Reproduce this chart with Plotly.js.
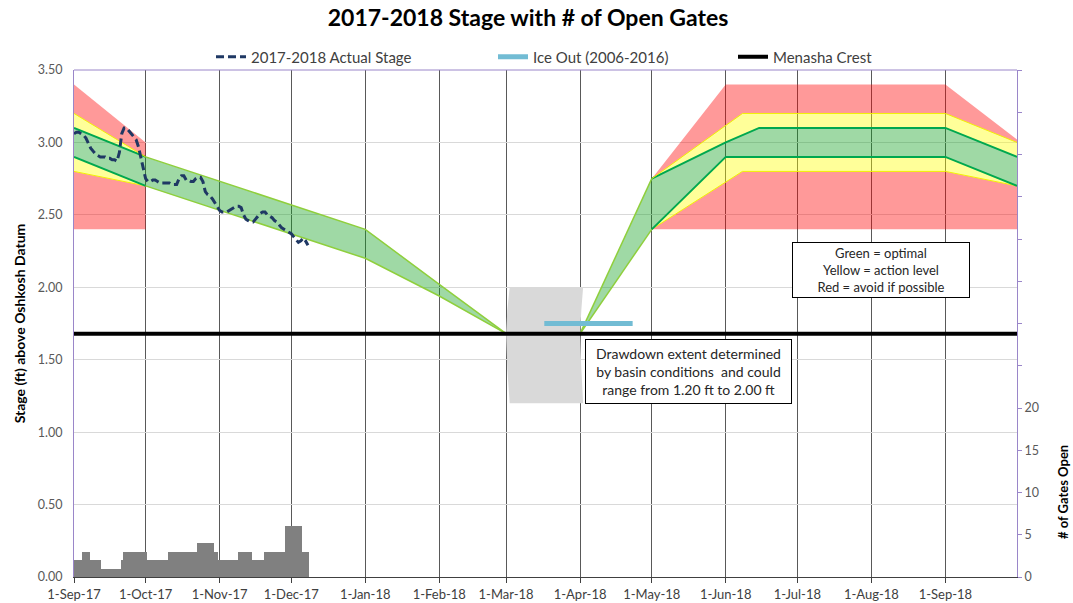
<!DOCTYPE html>
<html><head><meta charset="utf-8">
<script src="https://cdn.plot.ly/plotly-3.0.1.min.js"></script>
<style>html,body{margin:0;padding:0;background:#fff}#chart{width:1073px;height:603px}</style>
</head><body><div id="chart"></div>
<script>
// ---------------- DATA ----------------
const monthTicks = ['2017-09-01','2017-10-01','2017-11-01','2017-12-01','2018-01-01','2018-02-01',
  '2018-03-01','2018-04-01','2018-05-01','2018-06-01','2018-07-01','2018-08-01','2018-09-01'];
const xStart = '2017-09-01', xEnd = '2018-10-01';

// daily actual stage (ft), starting 1-Sep-2017
const stageStart = '2017-09-01';
const stageValues = [
 3.06,3.07,3.07,3.06,3.05,3.03,2.99,2.96,2.94,2.92,
 2.91,2.90,2.90,2.90,2.89,2.89,2.88,2.88,2.87,2.93,
 3.06,3.10,3.10,3.08,3.06,3.04,3.02,2.97,2.90,2.82,
 2.75,2.73,2.73,2.74,2.74,2.73,2.72,2.72,2.72,2.72,
 2.72,2.71,2.71,2.71,2.75,2.77,2.77,2.74,2.74,2.73,
 2.73,2.75,2.76,2.76,2.73,2.66,2.64,2.63,2.61,2.58,
 2.56,2.53,2.52,2.52,2.52,2.53,2.54,2.55,2.56,2.56,
 2.55,2.50,2.47,2.46,2.45,2.45,2.47,2.49,2.51,2.52,
 2.52,2.50,2.49,2.48,2.46,2.45,2.43,2.41,2.40,2.39,
 2.38,2.37,2.35,2.33,2.31,2.32,2.34,2.32,2.29];

// daily number of open gates, starting 1-Sep-2017
const gatesValues = [
 2,2,2,2,3,3,3,2,2,2,
 2,2,1,1,1,1,1,1,1,1,
 2,3,3,3,3,3,3,3,3,3,
 3,2,2,2,2,2,2,2,2,2,
 3,3,3,3,3,3,3,3,3,3,
 3,3,4,4,4,4,4,4,4,3,
 3,2,2,2,2,2,2,2,2,3,
 3,3,3,3,3,2,2,2,2,2,
 3,3,3,3,3,3,3,3,3,6,
 6,6,6,6,6,6,3,3,3];
const gateTickVals = [0,5,10,15,20,25,30,35,40,45,50,55,60];
const gateTickText = ['0','5','10','15','20','','','','','','','',''];

// Menasha crest & ice out
const crestX = ['2017-09-01','2018-10-01'], crestY = [1.68,1.68];
const iceX = ['2018-03-17','2018-04-23'], iceY = [1.75,1.75];

// drawdown extent range (1.20 - 2.00 ft)
const drawX = ['2018-03-02 12:00','2018-03-01 12:00','2018-03-01','2018-03-01 12:00','2018-03-02 12:00',
               '2018-04-02 06:00','2018-04-01 12:00','2018-04-01','2018-04-01 12:00','2018-04-02 06:00'];
const drawY = [2.00,1.84,1.68,1.44,1.20,1.20,1.44,1.68,1.84,2.00];

// target bands: fall (Sep)
const leftX = ['2017-09-01','2017-10-01'];
const redLowL = [2.40,2.40], yelLowL = [2.80,2.70], grnLowL = [2.90,2.70];
const grnHighL = [3.10,2.90], yelHighL = [3.20,2.90], redHighL = [3.40,3.00];
// drawdown band (Oct - Mar)
const fallX = ['2017-10-01','2018-01-01','2018-02-01','2018-03-01'];
const fallLow = [2.70,2.20,1.94,1.68], fallHigh = [2.90,2.40,2.02,1.68];
// refill band (Apr)
const riseX = ['2018-04-01','2018-05-01'];
const riseLow = [1.68,2.40], riseHigh = [1.68,2.75];
// summer bands (May - Sep)
const redLowRX = ['2018-05-01','2018-10-01'], redLowR = [2.40,2.40];
const yelLowRX = ['2018-05-01','2018-06-08','2018-09-01','2018-10-01'], yelLowR = [2.40,2.80,2.80,2.70];
const grnLowRX = ['2018-05-01','2018-06-01','2018-09-01','2018-10-01'], grnLowR = [2.40,2.90,2.90,2.70];
const grnHighRX = ['2018-05-01','2018-06-01','2018-06-15','2018-09-01','2018-10-01'], grnHighR = [2.75,3.00,3.10,3.10,2.90];
const yelHighRX = ['2018-05-01','2018-06-08','2018-09-01','2018-10-01'], yelHighR = [2.75,3.20,3.20,3.00];
const redHighRX = ['2018-05-01','2018-06-01','2018-09-01','2018-10-01'], redHighR = [2.75,3.40,3.40,3.02];

// ---------------- BUILD ----------------
function dailyDates(start, n){
  const t0 = Date.parse(start + 'T00:00:00Z'); const out = [];
  for (let i=0;i<n;i++){ out.push(new Date(t0 + i*86400000).toISOString().slice(0,10)); }
  return out;
}
const RED='rgba(255,0,0,0.4)', YEL='rgba(255,255,0,0.4)', GRN='rgba(15,160,30,0.4)';
const GLINE='#00a84f', YLINE='#f2f200', ELINE='#8fcf3c';
function band(x,y,fill,fillcolor,lc,lw){
  return {type:'scatter', mode:'lines', x:x, y:y, fill:fill, fillcolor:fillcolor,
    line:{color:lc||'rgba(0,0,0,0)', width:lw||0}, showlegend:false, hoverinfo:'skip'};
}
const traces = [
  band(leftX, redLowL, 'none'),
  band(leftX, yelLowL, 'tonexty', RED, YLINE, 1),
  band(leftX, grnLowL, 'tonexty', YEL, GLINE, 2),
  band(leftX, grnHighL, 'tonexty', GRN, GLINE, 2),
  band(leftX, yelHighL, 'tonexty', YEL, YLINE, 1),
  band(leftX, redHighL, 'tonexty', RED),
  band(fallX, fallLow, 'none', null, ELINE, 1.5),
  band(fallX, fallHigh, 'tonexty', GRN, ELINE, 1.5),
  band(riseX, riseLow, 'none', null, ELINE, 1.5),
  band(riseX, riseHigh, 'tonexty', GRN, ELINE, 1.5),
  band(redLowRX, redLowR, 'none'),
  band(yelLowRX, yelLowR, 'tonexty', RED, YLINE, 1),
  band(grnLowRX, grnLowR, 'tonexty', YEL, GLINE, 2),
  band(grnHighRX, grnHighR, 'tonexty', GRN, GLINE, 2),
  band(yelHighRX, yelHighR, 'tonexty', YEL, YLINE, 1),
  band(redHighRX, redHighR, 'tonexty', RED),
  {type:'scatter', mode:'lines', x:drawX, y:drawY, fill:'toself', fillcolor:'#d9d9d9',
   line:{width:0, color:'rgba(0,0,0,0)'}, showlegend:false, hoverinfo:'skip'},
  {type:'scatter', mode:'lines', name:'Menasha Crest', x:crestX, y:crestY,
   line:{color:'#000000', width:4}, legend:'legend3'},
  {type:'scatter', mode:'lines', name:'Ice Out (2006-2016)', x:iceX, y:iceY,
   line:{color:'#72bcd4', width:5}, legend:'legend2'},
  {type:'scatter', mode:'lines', name:'2017-2018 Actual Stage', x:dailyDates(stageStart, stageValues.length), y:stageValues,
   line:{color:'#1f3864', width:3, dash:'8px,4px'}, legend:'legend'},
  {type:'bar', x:dailyDates(stageStart, gatesValues.length), y:gatesValues, yaxis:'y2',
   width:86400000, marker:{color:'#808080', line:{width:0}}, showlegend:false, hoverinfo:'skip'}
];

const legBase = {orientation:'h', xref:'paper', yref:'paper', xanchor:'left', yanchor:'middle',
  y:(577-57)/507, bgcolor:'rgba(0,0,0,0)', font:{size:15, color:'#404040'}};
const layout = {
  width:1073, height:603,
  margin:{l:74, r:56, t:70, b:26},
  paper_bgcolor:'#ffffff', plot_bgcolor:'#ffffff',
  font:{family:'Lato, "Open Sans", sans-serif', size:12, color:'#595959'},
  title:{text:'<b>2017-2018 Stage with # of Open Gates</b>', font:{size:23, color:'#000000'},
    x:528/1073, xref:'container', xanchor:'center', y:1-18/603, yref:'container', yanchor:'middle'},
  bargap:0,
  xaxis:{type:'date', range:[xStart, xEnd], tickmode:'array', tickvals:monthTicks, tickformat:'%-d-%b-%y',
    showgrid:true, gridcolor:'#595959', gridwidth:1, showline:true, linecolor:'#404040', linewidth:1,
    ticks:'outside', ticklen:5, tickcolor:'#404040', zeroline:false, tickfont:{size:13, color:'#404040'}},
  yaxis:{range:[0,3.5], tick0:0, dtick:0.5, tickformat:'.2f', showgrid:true, gridcolor:'#d9d9d9',
    showline:true, linecolor:'#9a86c9', linewidth:1, ticks:'', zeroline:false, ticklabelstandoff:8,
    tickfont:{size:12.5, color:'#595959'},
    title:{text:'<b>Stage (ft) above Oshkosh Datum</b>', font:{size:14, color:'#000000'}, standoff:8}},
  yaxis2:{overlaying:'y', side:'right', range:[0,60], tickmode:'array', tickvals:gateTickVals, ticktext:gateTickText,
    showgrid:false, zeroline:false, showline:true, linecolor:'#9a86c9', linewidth:1,
    ticks:'outside', ticklen:4, tickcolor:'#9a86c9', tickfont:{size:12.5, color:'#595959'}},
  legend:Object.assign({}, legBase, {x:(211-74)/943}),
  legend2:Object.assign({}, legBase, {x:(493-74)/943}),
  legend3:Object.assign({}, legBase, {x:(733-74)/943}),
  shapes:[{type:'line', xref:'paper', yref:'paper', x0:0, x1:1, y0:1, y1:1, line:{color:'#9a86c9', width:1}}],
  annotations:[
    {xref:'paper', yref:'paper', x:(1063-74)/943, y:(577-492)/507, xanchor:'center', yanchor:'middle',
     text:'<b># of Gates Open</b>', textangle:-90, showarrow:false, font:{size:13, color:'#000000'}},
    {xref:'paper', yref:'paper', x:(688-74)/943, y:(577-372)/507, xanchor:'center', yanchor:'middle',
     text:'Drawdown extent determined<br>by basin conditions  and could<br>range from 1.20 ft to 2.00 ft',
     showarrow:false, bgcolor:'#ffffff', bordercolor:'#000000', borderwidth:1, borderpad:4,
     width:197, height:55, align:'center', valign:'middle',
     font:{size:14, color:'#262626'}},
    {xref:'paper', yref:'paper', x:(881-74)/943, y:(577-270)/507, xanchor:'center', yanchor:'middle',
     text:'Green = optimal<br>Yellow = action level<br>Red = avoid if possible',
     showarrow:false, bgcolor:'#ffffff', bordercolor:'#000000', borderwidth:1, borderpad:3,
     width:170, height:48, align:'center', valign:'middle',
     font:{size:13, color:'#262626'}}
  ]
};
Plotly.newPlot('chart', traces, layout, {displayModeBar:false, staticPlot:true});
</script></body></html>
